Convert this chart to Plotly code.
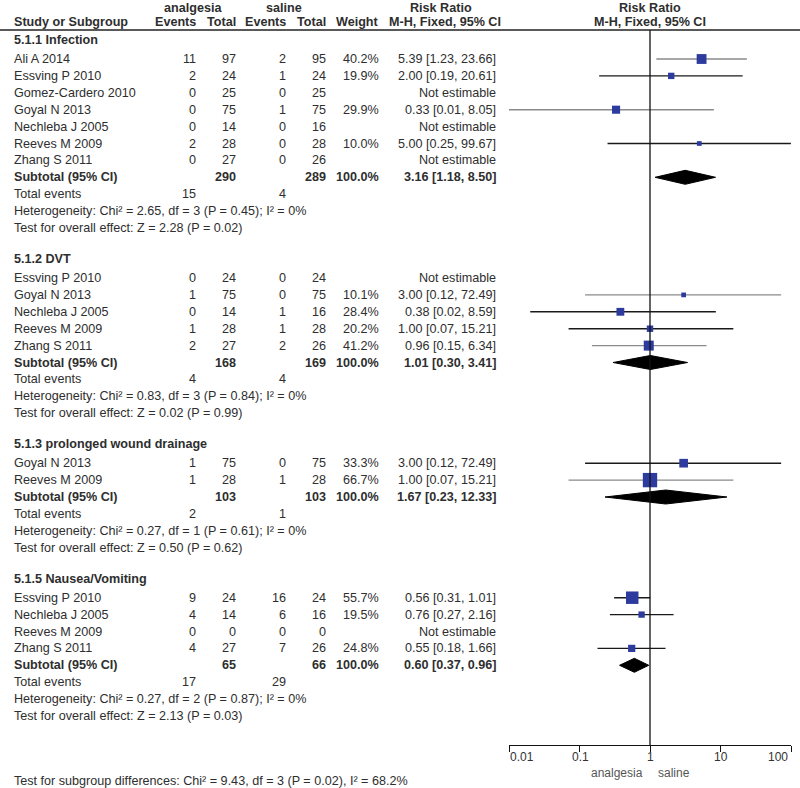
import math
import plotly.graph_objects as go

# ---------------- data ----------------
group_titles = ["5.1.1 Infection", "5.1.2 DVT", "5.1.3 prolonged wound drainage", "5.1.5 Nausea/Vomiting"]

inf_study = ["Ali A 2014", "Essving P 2010", "Gomez-Cardero 2010", "Goyal N 2013", "Nechleba J 2005", "Reeves M 2009", "Zhang S 2011"]
inf_ev_a = [11, 2, 0, 0, 0, 2, 0]
inf_tot_a = [97, 24, 25, 75, 14, 28, 27]
inf_ev_s = [2, 1, 0, 1, 0, 0, 0]
inf_tot_s = [95, 24, 25, 75, 16, 28, 26]
inf_weight = [40.2, 19.9, None, 29.9, None, 10.0, None]
inf_rr = [5.39, 2.00, None, 0.33, None, 5.00, None]
inf_lo = [1.23, 0.19, None, 0.01, None, 0.25, None]
inf_hi = [23.66, 20.61, None, 8.05, None, 99.67, None]

dvt_study = ["Essving P 2010", "Goyal N 2013", "Nechleba J 2005", "Reeves M 2009", "Zhang S 2011"]
dvt_ev_a = [0, 1, 0, 1, 2]
dvt_tot_a = [24, 75, 14, 28, 27]
dvt_ev_s = [0, 0, 1, 1, 2]
dvt_tot_s = [24, 75, 16, 28, 26]
dvt_weight = [None, 10.1, 28.4, 20.2, 41.2]
dvt_rr = [None, 3.00, 0.38, 1.00, 0.96]
dvt_lo = [None, 0.12, 0.02, 0.07, 0.15]
dvt_hi = [None, 72.49, 8.59, 15.21, 6.34]

wnd_study = ["Goyal N 2013", "Reeves M 2009"]
wnd_ev_a = [1, 1]
wnd_tot_a = [75, 28]
wnd_ev_s = [0, 1]
wnd_tot_s = [75, 28]
wnd_weight = [33.3, 66.7]
wnd_rr = [3.00, 1.00]
wnd_lo = [0.12, 0.07]
wnd_hi = [72.49, 15.21]

nv_study = ["Essving P 2010", "Nechleba J 2005", "Reeves M 2009", "Zhang S 2011"]
nv_ev_a = [9, 4, 0, 4]
nv_tot_a = [24, 14, 0, 27]
nv_ev_s = [16, 6, 0, 7]
nv_tot_s = [24, 16, 0, 26]
nv_weight = [55.7, 19.5, None, 24.8]
nv_rr = [0.56, 0.76, None, 0.55]
nv_lo = [0.31, 0.27, None, 0.18]
nv_hi = [1.01, 2.16, None, 1.66]

sub_tot_a = [290, 168, 103, 65]
sub_tot_s = [289, 169, 103, 66]
sub_rr = [3.16, 1.01, 1.67, 0.60]
sub_lo = [1.18, 0.30, 0.23, 0.37]
sub_hi = [8.50, 3.41, 12.33, 0.96]
total_ev_a = [15, 4, 2, 17]
total_ev_s = [4, 4, 1, 29]
heterogeneity = [
    "Heterogeneity: Chi² = 2.65, df = 3 (P = 0.45); I² = 0%",
    "Heterogeneity: Chi² = 0.83, df = 3 (P = 0.84); I² = 0%",
    "Heterogeneity: Chi² = 0.27, df = 1 (P = 0.61); I² = 0%",
    "Heterogeneity: Chi² = 0.27, df = 2 (P = 0.87); I² = 0%",
]
overall = [
    "Test for overall effect: Z = 2.28 (P = 0.02)",
    "Test for overall effect: Z = 0.02 (P = 0.99)",
    "Test for overall effect: Z = 0.50 (P = 0.62)",
    "Test for overall effect: Z = 2.13 (P = 0.03)",
]
footer = "Test for subgroup differences: Chi² = 9.43, df = 3 (P = 0.02), I² = 68.2%"
tick_vals = [0.01, 0.1, 1, 10, 100]
tick_text = ["0.01", "0.1", "1", "10", "100"]

groups = [
    (inf_study, inf_ev_a, inf_tot_a, inf_ev_s, inf_tot_s, inf_weight, inf_rr, inf_lo, inf_hi),
    (dvt_study, dvt_ev_a, dvt_tot_a, dvt_ev_s, dvt_tot_s, dvt_weight, dvt_rr, dvt_lo, dvt_hi),
    (wnd_study, wnd_ev_a, wnd_tot_a, wnd_ev_s, wnd_tot_s, wnd_weight, wnd_rr, wnd_lo, wnd_hi),
    (nv_study, nv_ev_a, nv_tot_a, nv_ev_s, nv_tot_s, nv_weight, nv_rr, nv_lo, nv_hi),
]

# ---------------- styles ----------------
ci_colors = [
    ["#8a8a8a", "#1a1a1a", None, "#8a8a8a", None, "#1a1a1a", None],
    [None, "#8a8a8a", "#1a1a1a", "#1a1a1a", "#8a8a8a"],
    ["#1a1a1a", "#8a8a8a"],
    ["#1a1a1a", "#1a1a1a", None, "#1a1a1a"],
]
tick_label_shift = [13, 1, 0, 0, -13]   # end labels pulled inward, as in the reference
FONT = "Arial, Liberation Sans, sans-serif"
TXT = "#2e2e2e"
FS = 12.6
BLUE = "#2e3b9e"
W, H = 800, 788
HEADER_LINE_Y = 30
AXIS_Y = 745
PLOT_X0, PLOT_X1 = 509, 791
ROW = 16.9
FIRST_GAP = 19
GROUP_GAP = 31

COL_STUDY = 12
COL_EV_A = 198
COL_TOT_A = 238
COL_EV_S = 288
COL_TOT_S = 328
COL_W = 381
COL_RR = 498

fig = go.Figure()
ann = []


def txt(x, y, s, anchor="left", bold=False, size=FS, color=TXT):
    ann.append(dict(x=x / W, y=y, xref="paper", yref="y", text=("<b>%s</b>" % s) if bold else s,
                    showarrow=False, xanchor=anchor, yanchor="middle",
                    font=dict(family=FONT, size=size, color=color)))


def fmt_rr(r, lo, hi):
    return "%.2f [%.2f, %.2f]" % (r, lo, hi)


# headers
txt(193, 8, "analgesia", "center", True)
txt(284, 8, "saline", "center", True)
txt(441, 8, "Risk Ratio", "center", True)
txt(650, 8, "Risk Ratio", "center", True)
txt(COL_STUDY, 22, "Study or Subgroup", "left", True)
txt(COL_EV_A, 22, "Events", "right", True)
txt(COL_TOT_A, 22, "Total", "right", True)
txt(COL_EV_S, 22, "Events", "right", True)
txt(COL_TOT_S, 22, "Total", "right", True)
txt(COL_W, 22, "Weight", "right", True)
txt(445, 22, "M-H, Fixed, 95% CI", "center", True)
txt(650, 22, "M-H, Fixed, 95% CI", "center", True)

y = 40.0
for g, (study, ev_a, tot_a, ev_s, tot_s, wt, rr, lo, hi) in enumerate(groups):
    txt(COL_STUDY, y, group_titles[g], "left", True)
    ys = y + FIRST_GAP
    for i in range(len(study)):
        yy = ys + i * ROW
        txt(COL_STUDY, yy, study[i])
        txt(COL_EV_A, yy, str(ev_a[i]), "right")
        txt(COL_TOT_A, yy, str(tot_a[i]), "right")
        txt(COL_EV_S, yy, str(ev_s[i]), "right")
        txt(COL_TOT_S, yy, str(tot_s[i]), "right")
        if wt[i] is not None:
            txt(COL_W, yy, "%.1f%%" % wt[i], "right")
            txt(COL_RR, yy, fmt_rr(rr[i], lo[i], hi[i]), "right")
            fig.add_trace(go.Scatter(x=[lo[i], hi[i]], y=[yy, yy], mode="lines",
                                     line=dict(color=ci_colors[g][i], width=1.4),
                                     hoverinfo="skip", showlegend=False))
            fig.add_trace(go.Scatter(x=[rr[i]], y=[yy], mode="markers",
                                     marker=dict(symbol="square", size=3 + 0.17 * wt[i], color=BLUE,
                                                 line=dict(width=0)),
                                     hoverinfo="skip", showlegend=False))
        else:
            txt(COL_RR, yy, "Not estimable", "right")
    n = len(study)
    ysub = ys + n * ROW
    txt(COL_STUDY, ysub, "Subtotal (95% CI)", "left", True)
    txt(COL_TOT_A, ysub, str(sub_tot_a[g]), "right", True)
    txt(COL_TOT_S, ysub, str(sub_tot_s[g]), "right", True)
    txt(COL_W, ysub, "100.0%", "right", True)
    txt(COL_RR, ysub, fmt_rr(sub_rr[g], sub_lo[g], sub_hi[g]), "right", True)
    fig.add_trace(go.Scatter(x=[sub_lo[g], sub_rr[g], sub_hi[g], sub_rr[g], sub_lo[g]],
                             y=[ysub, ysub - 7, ysub, ysub + 7, ysub], mode="lines",
                             fill="toself", fillcolor="black", line=dict(color="black", width=1),
                             hoverinfo="skip", showlegend=False))
    ytot = ysub + ROW
    txt(COL_STUDY, ytot, "Total events")
    txt(COL_EV_A, ytot, str(total_ev_a[g]), "right")
    txt(COL_EV_S, ytot, str(total_ev_s[g]), "right")
    txt(COL_STUDY, ytot + ROW, heterogeneity[g])
    txt(COL_STUDY, ytot + 2 * ROW, overall[g])
    y = ytot + 2 * ROW + GROUP_GAP

txt(COL_STUDY, 781, footer)
txt(645, 773, "analgesia", "right", size=12, color="#555555")
txt(656, 773, "saline", "left", size=12, color="#555555")

# tick labels placed through the log x axis (annotation x is log10 on log axes)
for v, t, sh in zip(tick_vals, tick_text, tick_label_shift):
    ann.append(dict(x=math.log10(v), y=757, xref="x", yref="y", text=t, showarrow=False,
                    xanchor="center", yanchor="middle", xshift=sh,
                    font=dict(family=FONT, size=12, color="#333333")))

# vertical line of no effect
fig.add_trace(go.Scatter(x=[1, 1], y=[HEADER_LINE_Y, AXIS_Y], mode="lines",
                         line=dict(color="#111111", width=1.3), hoverinfo="skip", showlegend=False))

shapes = [dict(type="line", xref="paper", yref="y", x0=0, x1=1, y0=HEADER_LINE_Y, y1=HEADER_LINE_Y,
               line=dict(color="#222222", width=1.5))]

fig.update_layout(
    width=W, height=H, autosize=False,
    margin=dict(l=0, r=0, t=0, b=0),
    paper_bgcolor="white", plot_bgcolor="white",
    annotations=ann, shapes=shapes, showlegend=False,
    xaxis=dict(type="log", range=[-2, 2], domain=[PLOT_X0 / W, PLOT_X1 / W],
               anchor="free", position=1 - AXIS_Y / H,
               showline=True, linecolor="#111111", linewidth=1.3,
               ticks="outside", ticklen=6, tickwidth=1.3, tickcolor="#111111",
               tickvals=tick_vals, showticklabels=False,
               showgrid=False, zeroline=False),
    yaxis=dict(range=[H, 0], domain=[0, 1], visible=False, showgrid=False, zeroline=False),
)

fig.write_html("out.html", config={"displayModeBar": False},
               post_script="document.body.style.margin='0';document.body.style.overflow='hidden';")
